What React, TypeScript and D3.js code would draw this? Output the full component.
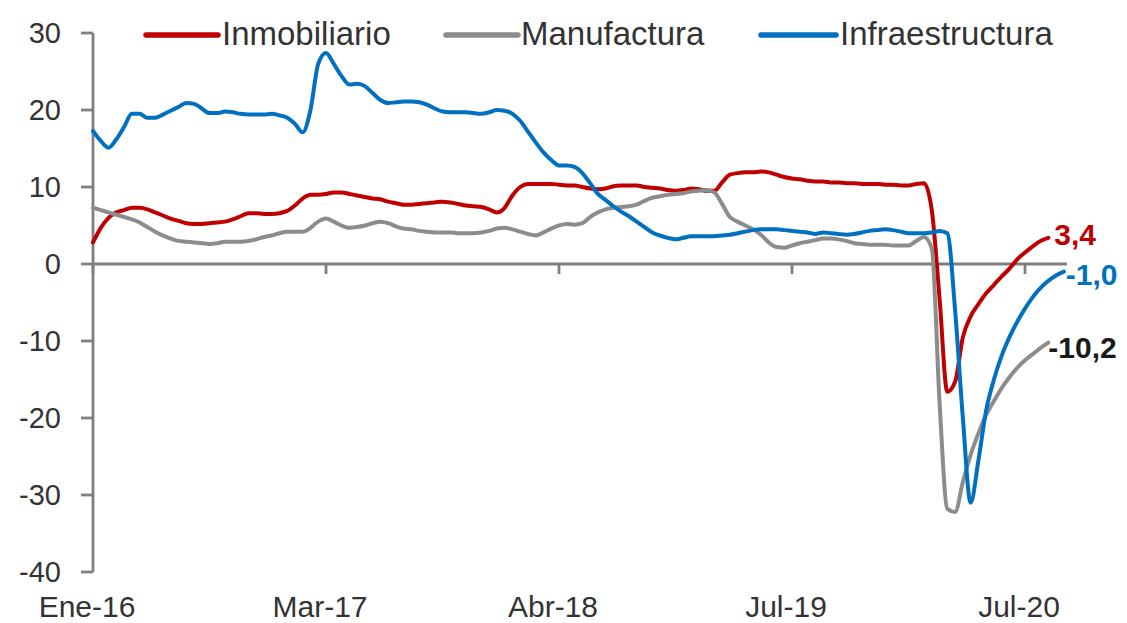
import React from 'react';
import * as d3 from 'd3';

const xTickLabels = ['Ene-16', 'Mar-17', 'Abr-18', 'Jul-19', 'Jul-20'];
const xTickIndex = [0, 30, 60, 90, 120];
const yTicks = [-40, -30, -20, -10, 0, 10, 20, 30];

const seriesNames = ['Inmobiliario', 'Manufactura', 'Infraestructura'];
const seriesColors = ['#C00000', '#8C8C8C', '#0070C0'];
const endLabels = ['3,4', '-10,2', '-1,0'];
const endLabelColors = ['#C00000', '#1a1a1a', '#0070C0'];

const inmobiliario = [
  2.8, 4.7, 6.0, 6.7, 7.0, 7.3, 7.3, 7.1, 6.7, 6.3,
  5.9, 5.6, 5.3, 5.2, 5.2, 5.3, 5.4, 5.5, 5.8, 6.2,
  6.6, 6.6, 6.5, 6.5, 6.6, 6.9, 7.6, 8.5, 9.0, 9.0,
  9.1, 9.3, 9.3, 9.1, 8.9, 8.7, 8.5, 8.4, 8.1, 7.9,
  7.7, 7.7, 7.8, 7.9, 8.0, 8.1, 8.0, 7.8, 7.6, 7.5,
  7.4, 7.1, 6.7, 7.3, 8.9, 10.0, 10.4, 10.4, 10.4, 10.4,
  10.3, 10.2, 10.2, 10.0, 9.8, 9.7, 9.8, 10.1, 10.2, 10.2,
  10.2, 10.0, 9.9, 9.8, 9.6, 9.5, 9.6, 9.8, 9.7, 9.5,
  9.5, 10.6, 11.6, 11.8, 11.9, 11.9, 12.0, 11.9, 11.6, 11.3,
  11.1, 11.0, 10.8, 10.7, 10.7, 10.6, 10.6, 10.5, 10.5, 10.4,
  10.4, 10.4, 10.3, 10.3, 10.2, 10.2, 10.4, 10.5, 7.0, -4.5,
  -16.6, -15.3, -9.5, -6.8, -5.2, -3.8, -2.7, -1.6, -0.6, 0.6,
  1.5, 2.3, 3.0, 3.4,
];

const manufactura = [
  7.3, 7.0, 6.7, 6.4, 6.1, 5.8, 5.4, 4.8, 4.2, 3.7,
  3.3, 3.0, 2.9, 2.8, 2.7, 2.6, 2.7, 2.9, 2.9, 2.9,
  3.0, 3.2, 3.5, 3.7, 4.0, 4.2, 4.2, 4.2, 4.7, 5.5,
  5.9, 5.5, 5.0, 4.7, 4.8, 5.0, 5.3, 5.5, 5.3, 4.9,
  4.6, 4.5, 4.3, 4.2, 4.1, 4.1, 4.1, 4.0, 4.0, 4.0,
  4.1, 4.3, 4.6, 4.7, 4.5, 4.2, 3.9, 3.7, 4.1, 4.6,
  5.0, 5.2, 5.1, 5.3, 6.1, 6.7, 7.1, 7.3, 7.4, 7.5,
  7.7, 8.2, 8.6, 8.8, 9.0, 9.1, 9.2, 9.4, 9.5, 9.6,
  9.3, 7.8, 6.1, 5.5, 5.0, 4.5, 3.8, 2.8, 2.2, 2.1,
  2.4, 2.7, 2.9, 3.1, 3.3, 3.3, 3.2, 3.0, 2.7, 2.6,
  2.5, 2.5, 2.5, 2.4, 2.4, 2.4, 3.0, 3.5, 2.0, -18.0,
  -31.8, -32.2, -28.3, -24.8, -22.0, -19.6, -17.8, -16.1, -14.7, -13.5,
  -12.5, -11.7, -10.9, -10.2,
];

const infraestructura = [
  17.3, 16.0, 15.1, 16.2, 17.8, 19.5, 19.5, 19.0, 19.0, 19.4,
  19.9, 20.4, 20.9, 20.8, 20.2, 19.6, 19.6, 19.8, 19.7, 19.5,
  19.4, 19.4, 19.4, 19.5, 19.3, 19.0, 18.2, 17.1, 20.0, 26.0,
  27.4, 26.0, 24.4, 23.3, 23.4, 23.1, 22.2, 21.3, 20.9, 21.0,
  21.1, 21.1, 21.0, 20.7, 20.2, 19.8, 19.7, 19.7, 19.7, 19.6,
  19.5, 19.7, 20.0, 19.9, 19.5, 18.6, 17.2, 15.8, 14.5, 13.5,
  12.8, 12.8, 12.6, 11.8, 10.5, 9.1, 8.3, 7.5, 6.8, 6.2,
  5.5, 4.8, 4.1, 3.7, 3.4, 3.2, 3.4, 3.6, 3.6, 3.6,
  3.6, 3.7, 3.8, 4.0, 4.2, 4.4, 4.5, 4.5, 4.5, 4.4,
  4.3, 4.2, 4.1, 3.9, 4.1, 4.0, 3.9, 3.8, 3.9, 4.1,
  4.3, 4.4, 4.5, 4.4, 4.2, 4.0, 4.0, 4.0, 4.1, 4.3,
  4.0, -6.0, -20.0, -31.0, -25.5, -19.0, -15.0, -11.9, -9.5, -7.5,
  -5.8, -4.3, -3.1, -2.2, -1.5, -1.0,
];

const allSeries = [inmobiliario, manufactura, infraestructura];

export default function App() {
  const W = 1127;
  const H = 623;
  const font = '"Liberation Sans", Arial, sans-serif';
  const axisColor = '#7f7f7f';
  const textColor = '#333333';

  const x = d3.scaleLinear().domain([0, 120]).range([93, 1025]);
  const y = d3.scaleLinear().domain([-40, 30]).range([572, 33]);
  const line = d3
    .line<number>()
    .x((_, i) => x(i))
    .y((d) => y(d))
    .curve(d3.curveMonotoneX);

  const axisLeftX = x(0);
  const axisRightX = 1067;
  const y0 = y(0);

  const legendLayout = [
    { x1: 146, x2: 218, tx: 222 },
    { x1: 446, x2: 518, tx: 521 },
    { x1: 761, x2: 836, tx: 840 },
  ];
  const labelOffsets = [
    { dx: 6, dy: -3 },
    { dx: 0, dy: 5 },
    { dx: 2, dy: 3 },
  ];

  return (
    <svg
      width={W}
      height={H}
      style={{ position: 'absolute', left: 0, top: 0, background: '#ffffff' }}
      fontFamily={font}
    >
      <rect x={0} y={0} width={W} height={H} fill="#ffffff" />

      {/* Y axis */}
      <line x1={axisLeftX} x2={axisLeftX} y1={y(30)} y2={y(-40)} stroke={axisColor} strokeWidth={2.8} />
      {yTicks.map((t) => (
        <g key={'yt' + t}>
          <line x1={axisLeftX - 12} x2={axisLeftX} y1={y(t)} y2={y(t)} stroke={axisColor} strokeWidth={2.8} />
          <text
            x={61}
            y={y(t)}
            textAnchor="end"
            dominantBaseline="central"
            fontSize={29}
            fill={textColor}
          >
            {t}
          </text>
        </g>
      ))}

      {/* X axis at zero */}
      <line x1={axisLeftX} x2={axisRightX} y1={y0} y2={y0} stroke={axisColor} strokeWidth={2.8} />
      {xTickIndex.map((ti, k) => (
        <g key={'xt' + ti}>
          <line x1={x(ti)} x2={x(ti)} y1={y0} y2={y0 + 10} stroke={axisColor} strokeWidth={2.8} />
          <text x={x(ti) - 6} y={617} textAnchor="middle" fontSize={30} fill={textColor}>
            {xTickLabels[k]}
          </text>
        </g>
      ))}

      {/* Series */}
      {allSeries.map((vals, s) => (
        <path
          key={'s' + s}
          d={line(vals) || ''}
          fill="none"
          stroke={seriesColors[s]}
          strokeWidth={4}
          strokeLinejoin="round"
          strokeLinecap="round"
        />
      ))}

      {/* End labels */}
      {allSeries.map((vals, s) => {
        const li = vals.length - 1;
        return (
          <text
            key={'el' + s}
            x={x(li) + labelOffsets[s].dx}
            y={y(vals[li]) + labelOffsets[s].dy}
            dominantBaseline="central"
            fontSize={30}
            fontWeight="bold"
            fill={endLabelColors[s]}
          >
            {endLabels[s]}
          </text>
        );
      })}

      {/* Legend */}
      {seriesNames.map((name, s) => (
        <g key={'lg' + s}>
          <line
            x1={legendLayout[s].x1}
            x2={legendLayout[s].x2}
            y1={35}
            y2={35}
            stroke={seriesColors[s]}
            strokeWidth={5.5}
            strokeLinecap="round"
          />
          <text x={legendLayout[s].tx} y={45} fontSize={33} fill={textColor}>
            {name}
          </text>
        </g>
      ))}
    </svg>
  );
}
